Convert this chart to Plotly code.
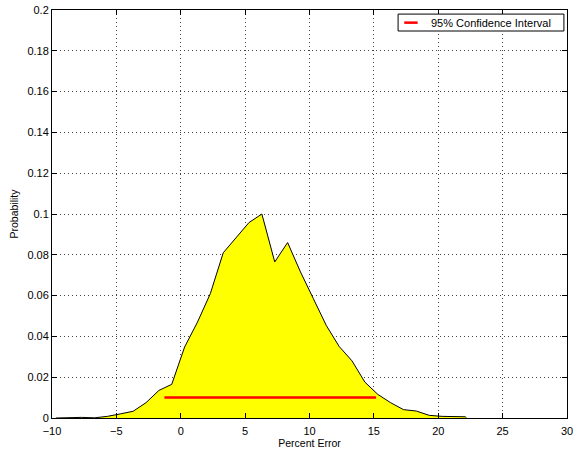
import plotly.graph_objects as go

# Error distribution (percent error vs probability)
err_pct = [-9.7, -8.7, -7.7, -6.7, -5.7, -4.7, -3.7, -2.7, -1.7, -0.7,
           0.3, 1.3, 2.3, 3.3, 4.3, 5.3, 6.3, 7.3, 8.3, 9.3,
           10.3, 11.3, 12.3, 13.3, 14.3, 15.3, 16.3, 17.3, 18.3, 19.3,
           20.3, 21.3, 22.1, 22.2]
prob = [0.0, 0.0002, 0.0003, 0.0001, 0.0008, 0.002, 0.0033, 0.0075, 0.0135, 0.0165,
        0.0348, 0.047, 0.061, 0.081, 0.0885, 0.0958, 0.1, 0.0765, 0.086, 0.0716,
        0.0585, 0.0454, 0.0351, 0.028, 0.0176, 0.0116, 0.0075, 0.0041, 0.0034, 0.0013,
        0.0008, 0.0007, 0.0006, 0.0]

# 95% confidence interval
ci_x = [-1.27, 15.17]
ci_y = [0.01, 0.01]
ci_label = "95% Confidence Interval"

x_ticks = [-10, -5, 0, 5, 10, 15, 20, 25, 30]
y_ticks = [0, 0.02, 0.04, 0.06, 0.08, 0.1, 0.12, 0.14, 0.16, 0.18, 0.2]
y_tick_text = ["0", "0.02", "0.04", "0.06", "0.08", "0.1", "0.12", "0.14", "0.16", "0.18", "0.2"]

ci_color = "#ff0000"

fig = go.Figure()
fig.add_trace(go.Scatter(
    x=err_pct, y=prob, mode="lines", fill="tozeroy",
    fillcolor="#ffff00", line=dict(color="black", width=1),
    showlegend=False, hoverinfo="skip"))
fig.add_trace(go.Scatter(
    x=ci_x, y=ci_y, mode="lines", name=ci_label,
    line=dict(color=ci_color, width=2.5), showlegend=False))

font = "Liberation Sans, Arial, Helvetica, sans-serif"
axis_common = dict(
    showline=True, linecolor="black", linewidth=1, mirror="ticks",
    ticks="inside", ticklen=5, tickcolor="black",
    showgrid=True, gridcolor="#444", gridwidth=1, griddash="1px,3px",
    zeroline=False, tickfont=dict(family=font, size=11, color="black"),
    automargin=False, ticklabeloverflow="allow")

fig.update_xaxes(range=[-10, 30], tickvals=x_ticks, ticklabelstandoff=3, **axis_common,
                 title=dict(text="Percent Error", font=dict(family=font, size=10.5, color="black"), standoff=1))
fig.update_yaxes(range=[0, 0.2], tickvals=y_ticks, ticktext=y_tick_text, **axis_common,
                 title=dict(text="Probability", font=dict(family=font, size=10.5, color="black"), standoff=6))

# Compact boxed legend in the upper-right corner of the axes
fig.add_shape(type="rect", xref="paper", yref="paper",
              x0=0.672, x1=0.994, y0=0.9485, y1=0.990,
              line=dict(color="black", width=1), fillcolor="white", layer="above")
fig.add_shape(type="line", xref="paper", yref="paper",
              x0=0.684, x1=0.71, y0=0.969, y1=0.969,
              line=dict(color=ci_color, width=2.5), layer="above")
fig.add_annotation(xref="paper", yref="paper", x=0.733, y=0.969,
                   xanchor="left", yanchor="middle", showarrow=False,
                   text=ci_label, font=dict(family=font, size=11, color="black"))

fig.update_layout(
    width=573, height=452,
    margin=dict(l=52, r=6, t=10, b=34),
    paper_bgcolor="white", plot_bgcolor="white",
    showlegend=False,
)

fig.write_html("out.html")
